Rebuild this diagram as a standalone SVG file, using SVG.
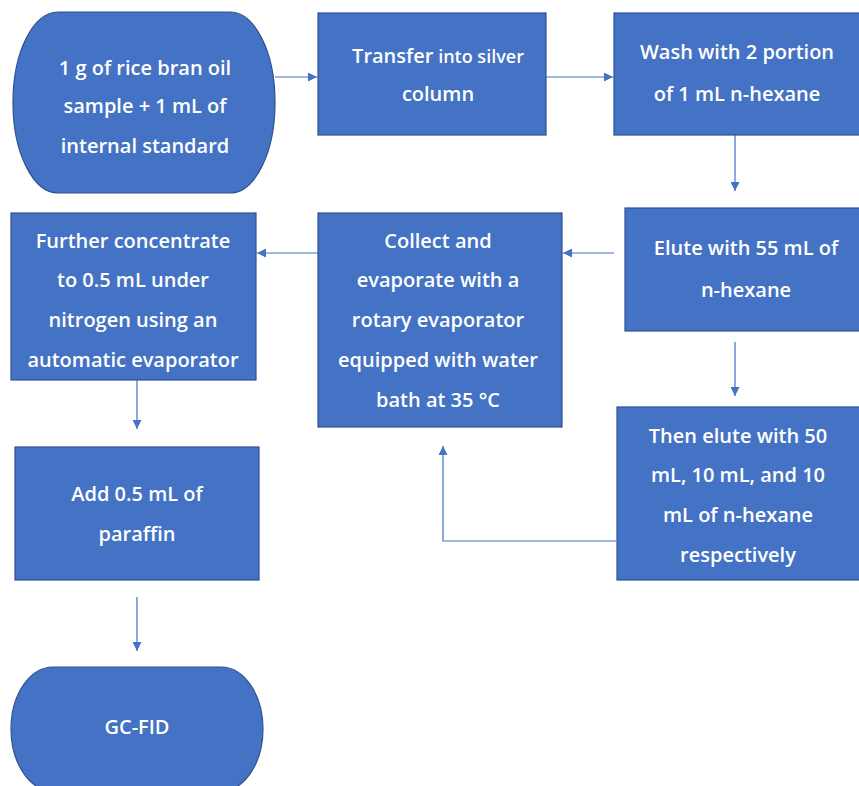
<svg xmlns="http://www.w3.org/2000/svg" width="859" height="786" viewBox="0 0 859 786">
<style>
.box{fill:#4472C4;stroke:#2F528F;stroke-width:1.2}
.t{font-family:"Open Sans","Noto Sans",sans-serif;font-size:20px;font-weight:600;fill:#ffffff;text-anchor:middle}
.c{fill:none;stroke:#4472C4;stroke-width:1.2}
</style>
<defs>
<marker id="ah" viewBox="0 0 10 10" refX="10" refY="5" markerWidth="9" markerHeight="9" markerUnits="userSpaceOnUse" orient="auto">
<path d="M0,0 L10,5 L0,10 Z" fill="#4472C4"/>
</marker>
</defs>
<rect width="859" height="786" fill="#ffffff"/>
<g id="connectors">
<line class="c" x1="275" y1="77" x2="317" y2="77" marker-end="url(#ah)"/>
<line class="c" x1="546" y1="77" x2="613" y2="77" marker-end="url(#ah)"/>
<line class="c" x1="735" y1="135" x2="735" y2="191" marker-end="url(#ah)"/>
<line class="c" x1="614" y1="253" x2="563" y2="253" marker-end="url(#ah)"/>
<line class="c" x1="318" y1="253" x2="257" y2="253" marker-end="url(#ah)"/>
<line class="c" x1="735" y1="342" x2="735" y2="396" marker-end="url(#ah)"/>
<polyline class="c" points="616,541 443,541 443,446" marker-end="url(#ah)"/>
<line class="c" x1="137" y1="380" x2="137" y2="429" marker-end="url(#ah)"/>
<line class="c" x1="137" y1="597" x2="137" y2="651" marker-end="url(#ah)"/>
</g>
<g id="n1">
<rect class="box" x="13" y="12" width="262" height="181" rx="45" ry="90"/>
<text class="t" x="145" y="75">1 g of rice bran oil</text>
<text class="t" x="145" y="113">sample + 1 mL of</text>
<text class="t" x="145" y="153">internal standard</text>
</g>
<g id="n2">
<rect class="box" x="318" y="13" width="228" height="122"/>
<text class="t" x="438" y="63"><tspan>Transfer</tspan><tspan font-size="18px"> into silver</tspan></text>
<text class="t" x="438" y="101" font-size="18px">column</text>
</g>
<g id="n3">
<rect class="box" x="614" y="13" width="250" height="122"/>
<text class="t" x="737" y="59">Wash with 2 portion</text>
<text class="t" x="737" y="101">of 1 mL n-hexane</text>
</g>
<g id="n4">
<rect class="box" x="625" y="208" width="239" height="123"/>
<text class="t" x="746" y="255">Elute with 55 mL of</text>
<text class="t" x="746" y="297">n-hexane</text>
</g>
<g id="n5">
<rect class="box" x="318" y="213" width="244" height="214"/>
<text class="t" x="438" y="248">Collect and</text>
<text class="t" x="438" y="287">evaporate with a</text>
<text class="t" x="438" y="327">rotary evaporator</text>
<text class="t" x="438" y="367">equipped with water</text>
<text class="t" x="438" y="407">bath at 35 °C</text>
</g>
<g id="n6">
<rect class="box" x="11" y="213" width="245" height="167"/>
<text class="t" x="133" y="248">Further concentrate</text>
<text class="t" x="133" y="287">to 0.5 mL under</text>
<text class="t" x="133" y="327">nitrogen using an</text>
<text class="t" x="133" y="367">automatic evaporator</text>
</g>
<g id="n7">
<rect class="box" x="617" y="407" width="247" height="173"/>
<text class="t" x="738" y="443">Then elute with 50</text>
<text class="t" x="738" y="482">mL, 10 mL, and 10</text>
<text class="t" x="738" y="522">mL of n-hexane</text>
<text class="t" x="738" y="562">respectively</text>
</g>
<g id="n8">
<rect class="box" x="15" y="447" width="244" height="133"/>
<text class="t" x="137" y="501">Add 0.5 mL of</text>
<text class="t" x="137" y="541">paraffin</text>
</g>
<g id="n9">
<rect class="box" x="11" y="667" width="252" height="124" rx="42" ry="62"/>
<text class="t" x="137" y="734">GC-FID</text>
</g>
</svg>
